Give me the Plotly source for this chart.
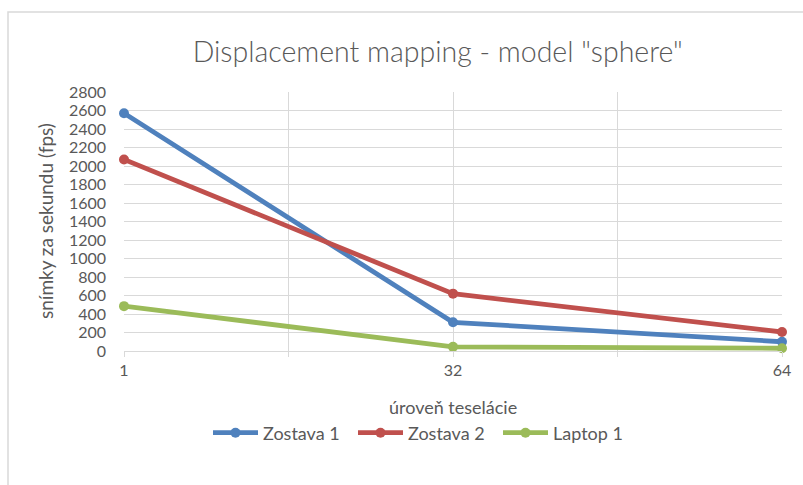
import plotly.graph_objects as go

categories = ["1", "32", "64"]
zostava1 = [2570, 310, 100]
zostava2 = [2070, 620, 205]
laptop1 = [485, 45, 30]
series_names = ["Zostava 1", "Zostava 2", "Laptop 1"]
colors = ["#4F81BD", "#C0504D", "#9BBB59"]
y_ticks = list(range(0, 2801, 200))

x_pos = list(range(len(categories)))
TXT = "#595959"
FONT = "Lato"

fig = go.Figure()
for name, vals, col in zip(series_names, [zostava1, zostava2, laptop1], colors):
    fig.add_trace(go.Scatter(
        x=x_pos, y=vals, name=name, mode="lines+markers",
        line=dict(color=col, width=4.8),
        marker=dict(color=col, size=10),
        cliponaxis=False,
    ))

fig.update_layout(
    width=803, height=485,
    paper_bgcolor="white", plot_bgcolor="white",
    margin=dict(l=124, r=21, t=92, b=134),
    font=dict(family=FONT, color=TXT, size=16),
    title=dict(text='Displacement mapping - model "sphere"',
               x=0.545, xref="container", xanchor="center",
               y=1 - 52 / 485, yref="container", yanchor="middle",
               font=dict(family=FONT, size=28.5, color=TXT, weight=300)),
    showlegend=True,
    legend=dict(orientation="h", x=208 / 803, xref="container", xanchor="left",
                y=1 - 433 / 485, yref="container", yanchor="middle",
                font=dict(size=18, color=TXT), itemwidth=45,
                entrywidth=85, entrywidthmode="pixels"),
    xaxis=dict(range=[0, len(categories) - 1], tickvals=x_pos, ticktext=categories,
               showgrid=True, gridcolor="#d9d9d9", gridwidth=1,
               ticks="outside", ticklen=5, tickcolor="#d9d9d9",
               showline=True, linecolor="#d9d9d9", zeroline=False,
               ticklabelstandoff=0,
               minor=dict(dtick=0.5, showgrid=True, gridcolor="#d9d9d9",
                          ticks="outside", ticklen=5, tickcolor="#d9d9d9"),
               tickfont=dict(size=16, color=TXT)),
    yaxis=dict(range=[0, 2800], tickvals=y_ticks, showgrid=True,
               gridcolor="#d9d9d9", gridwidth=1, zeroline=False,
               showline=False, ticks="", ticklabelstandoff=17,
               tickfont=dict(size=16, color=TXT)),
    shapes=[dict(type="rect", xref="paper", yref="paper",
                 x0=(8 - 124) / 658, x1=1.2, y0=-0.7, y1=(350 - 11) / 259,
                 line=dict(color="#d9d9d9", width=1.5), layer="below")],
    annotations=[
        dict(text="snímky za sekundu (fps)", textangle=-90, showarrow=False,
             xref="paper", yref="paper", x=(45 - 124) / 658, y=(350 - 220) / 259,
             xanchor="center", yanchor="middle", font=dict(size=19, color=TXT)),
        dict(text="úroveň teselácie", showarrow=False,
             xref="paper", yref="paper", x=(453 - 124) / 658, y=(350 - 406) / 259,
             xanchor="center", yanchor="middle", font=dict(size=18, color=TXT)),
    ],
)

fig.write_html("out.html", post_script="document.body.style.margin='0';",
               config={"displayModeBar": False})
